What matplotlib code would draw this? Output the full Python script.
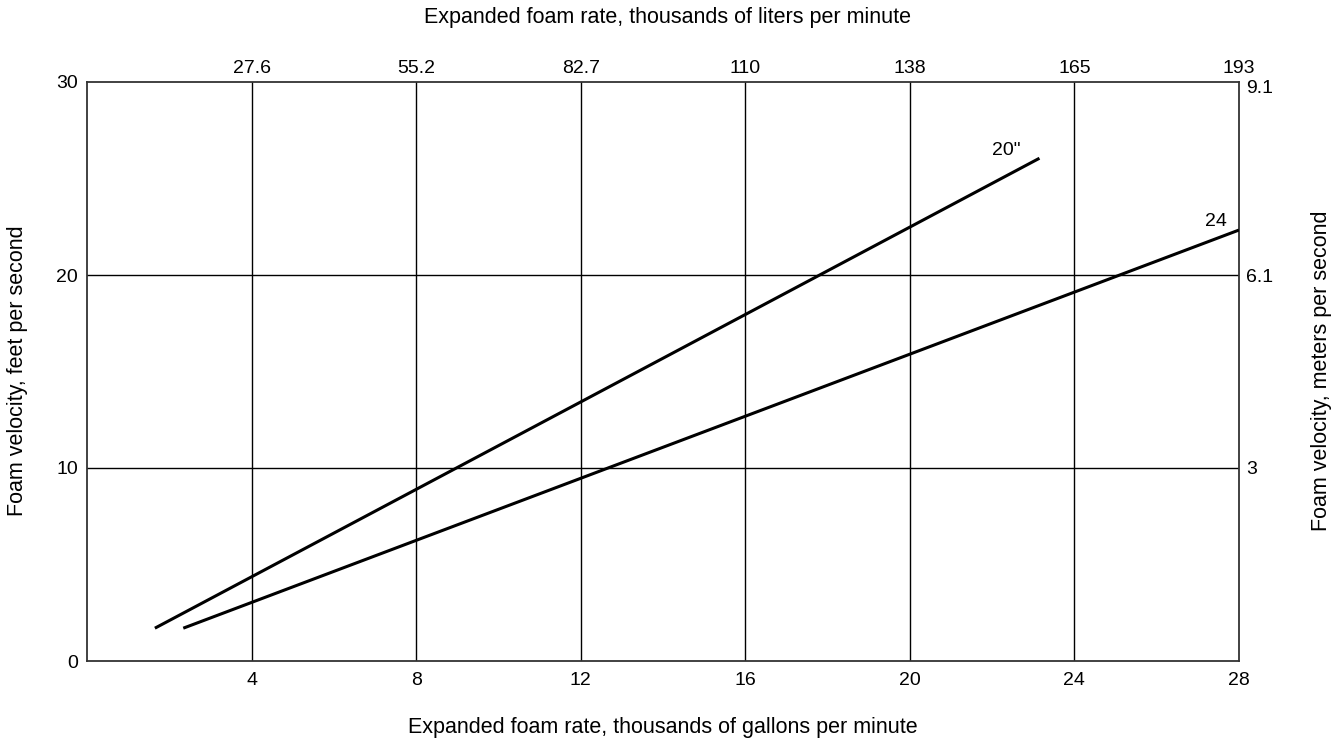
import matplotlib
matplotlib.use("Agg")
import matplotlib.pyplot as plt
import matplotlib.transforms as mtransforms

plt.rcParams['font.family'] = ['Liberation Sans', 'DejaVu Sans']

# Data
gpm_ticks = [4, 8, 12, 16, 20, 24, 28]
gpm_labels = ["4", "8", "12", "16", "20", "24", "28"]
lpm_labels = ["27.6", "55.2", "82.7", "110", "138", "165", "193"]
fps_ticks = [0, 10, 20, 30]
fps_labels = ["0", "10", "20", "30"]
mps_ticks = [10, 20, 30]
mps_labels = ["3", "6.1", "9.1"]

pipe20_x = [1.65, 23.15]
pipe20_y = [1.7, 26.05]
pipe24_x = [2.34, 28.0]
pipe24_y = [1.7, 22.33]

W, H = 1343, 746
fig = plt.figure(figsize=(W/100, H/100), dpi=100)
ax = fig.add_axes([87/W, 1 - 661/H, (1239-87)/W, (661-82)/H])
ax.set_xlim(0, 28)
ax.set_ylim(0, 30)

for x in gpm_ticks[:-1]:
    ax.axvline(x, color='black', lw=1.0, zorder=1)
for y in fps_ticks[1:-1]:
    ax.axhline(y, color='black', lw=1.0, zorder=1)

ax.plot(pipe20_x, pipe20_y, color='black', lw=2.2, solid_capstyle='butt', zorder=3)
ax.plot(pipe24_x, pipe24_y, color='black', lw=2.2, solid_capstyle='butt', zorder=3)

fs = 14
lfs = 15.5
ax.text(22.70, 26.2, '20"', fontsize=fs, ha='right', va='baseline')
ax.text(27.71, 22.54, '24', fontsize=fs, ha='right', va='baseline')

for sp in ax.spines.values():
    sp.set_color('#333333')
    sp.set_linewidth(1.3)

ax.set_xticks(gpm_ticks)
ax.set_xticklabels(gpm_labels, fontsize=fs)
ax.set_yticks(fps_ticks)
ax.set_yticklabels(fps_labels, fontsize=fs)
ax.tick_params(axis='x', length=0, pad=8)
ax.tick_params(axis='y', length=0, pad=6.5)

axt = ax.twiny()
axt.set_xlim(0, 28)
axt.set_xticks(gpm_ticks)
axt.set_xticklabels(lpm_labels, fontsize=fs)
axt.tick_params(axis='x', length=0, pad=3.5)
for sp in axt.spines.values():
    sp.set_visible(False)

axr = ax.twinx()
axr.set_ylim(0, 30)
axr.set_yticks(mps_ticks)
axr.set_yticklabels(mps_labels, fontsize=fs)
axr.tick_params(axis='y', length=0, pad=5)
lbls = axr.get_yticklabels()
off = mtransforms.ScaledTranslation(0, -3.5/72, fig.dpi_scale_trans)
lbls[-1].set_transform(lbls[-1].get_transform() + off)
for sp in axr.spines.values():
    sp.set_visible(False)

fig.text(667/W, 1 - 18/H, "Expanded foam rate, thousands of liters per minute",
         fontsize=lfs, ha='center', va='center')
fig.text(663/W, 1 - 727/H, "Expanded foam rate, thousands of gallons per minute",
         fontsize=lfs, ha='center', va='center')
fig.text(17.5/W, 1 - 371/H, "Foam velocity, feet per second",
         fontsize=lfs, ha='center', va='center', rotation=90)
fig.text(1322/W, 1 - 371/H, "Foam velocity, meters per second",
         fontsize=lfs, ha='center', va='center', rotation=90)

fig.savefig("out.png", dpi=100, facecolor='white')
